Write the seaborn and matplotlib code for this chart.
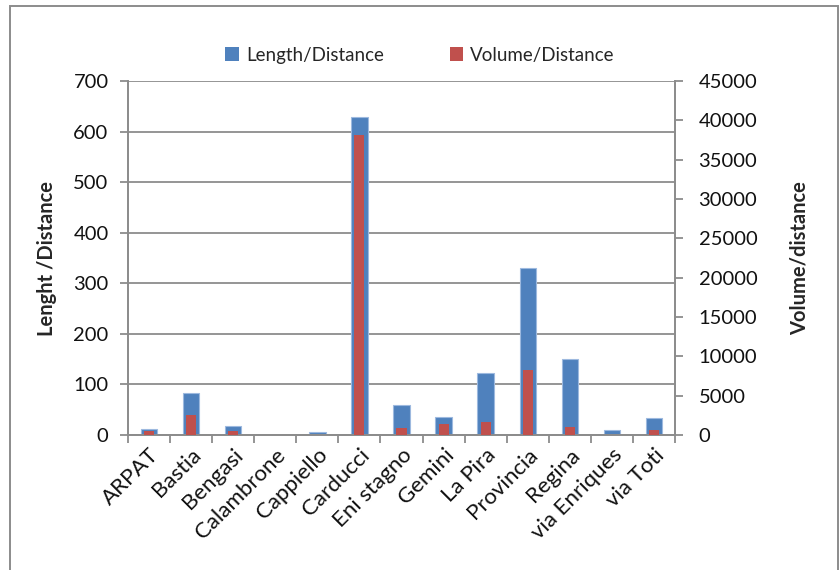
import matplotlib
matplotlib.use("Agg")
import matplotlib.pyplot as plt
from matplotlib.patches import Patch, Rectangle
import seaborn as sns
import pandas as pd

sites = ["ARPAT", "Bastia", "Bengasi", "Calambrone", "Cappiello", "Carducci",
         "Eni stagno", "Gemini", "La Pira", "Provincia", "Regina",
         "via Enriques", "via Toti"]
length_per_distance = [12, 84, 17, 0, 6, 628, 60, 35, 123, 331, 150, 10, 34]
volume_per_distance = [450, 2500, 500, 0, 0, 38100, 930, 1440, 1620, 8200, 1000, 60, 680]

left_ticks = [0, 100, 200, 300, 400, 500, 600, 700]
right_ticks = [0, 5000, 10000, 15000, 20000, 25000, 30000, 35000, 40000, 45000]

BLUE = "#4F81BD"
RED = "#C0504D"
GRID = "#8C8C8C"
FS = 14.5

sns.set_theme(style="white")
plt.rcParams["font.family"] = ["Lato", "DejaVu Sans"]

df = pd.DataFrame({"site": sites, "length": length_per_distance,
                   "volume": volume_per_distance})

fig = plt.figure(figsize=(8.4, 5.7), dpi=100)
ax = fig.add_axes([128 / 840, 1 - 435 / 570, (675 - 128) / 840, (435 - 81) / 570])

sns.barplot(data=df, x="site", y="length", color=BLUE, width=0.39,
            saturation=1, edgecolor="#9DB9DF", linewidth=0.8, ax=ax, zorder=2)
ax.set_ylim(0, 700)
ax.set_yticks(left_ticks)
ax.yaxis.grid(True, color=GRID, linewidth=1.3, zorder=0)
ax.set_axisbelow(True)

ax2 = ax.twinx()
sns.barplot(data=df, x="site", y="volume", color=RED, width=0.24,
            saturation=1, linewidth=0, ax=ax2, zorder=3)
ax2.set_ylim(0, 45000)
ax2.set_yticks(right_ticks)

for a in (ax, ax2):
    a.set_xlim(-0.5, len(sites) - 0.5)
    a.spines["top"].set_visible(False)
    for side in ("left", "right", "bottom"):
        a.spines[side].set_color(GRID)
        a.spines[side].set_linewidth(1.3)

ax.set_xticks(range(len(sites)))
ax.set_xticklabels(sites, rotation=45, ha="right", rotation_mode="anchor",
                   fontsize=16, color="#111111")
ax.set_xticks([i - 0.5 for i in range(len(sites) + 1)], minor=True)
ax.tick_params(axis="x", which="major", length=0, pad=7)
ax.tick_params(axis="x", which="minor", length=6, width=1.3, color=GRID,
               direction="out", bottom=True)
ax.tick_params(axis="y", length=6, width=1.3, color=GRID, direction="out",
               left=True, labelsize=FS, labelcolor="#111111", pad=8)
ax2.tick_params(axis="y", length=6, width=1.3, color=GRID, direction="out",
                right=True, labelsize=FS, labelcolor="#111111", pad=11)

ax.set_xlabel("")
ax.set_ylabel("Lenght /Distance", fontsize=FS, fontweight="bold")
ax2.set_ylabel("Volume/distance", fontsize=FS, fontweight="bold")
ax.yaxis.set_label_coords((57 - 128) / 547, 0.5)
ax2.yaxis.set_label_coords((790 - 128) / 547, 0.5)

handles = [Patch(facecolor=BLUE, edgecolor="none"),
           Patch(facecolor=RED, edgecolor="none")]
fig.legend(handles, ["Length/Distance", "Volume/Distance"], loc="center",
           bbox_to_anchor=(0.5, 1 - 55 / 570), ncol=2, frameon=False,
           fontsize=13.5, handlelength=0.7, handleheight=0.7,
           handletextpad=0.4, columnspacing=3.5)

# chart frame
fig.patches.append(Rectangle((10 / 840, -0.01), (838 - 10) / 840, 1 - 6 / 570 + 0.01,
                             transform=fig.transFigure, fill=False,
                             edgecolor="#8C8C8C", linewidth=1.4))

fig.savefig("out.png", dpi=100, facecolor="white")
